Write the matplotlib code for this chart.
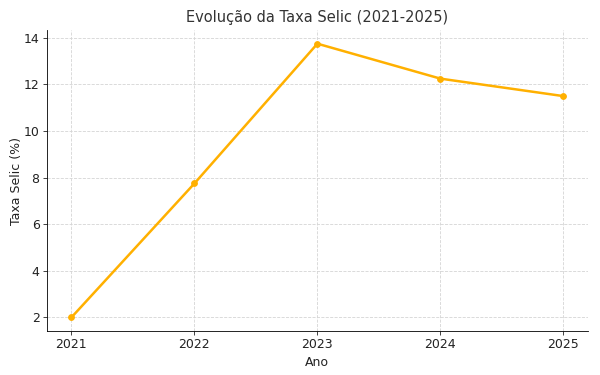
import matplotlib.pyplot as plt

anos = [2021, 2022, 2023, 2024, 2025]
selic = [2.0, 7.75, 13.75, 12.25, 11.5]

fig, ax = plt.subplots(figsize=(8, 5), dpi=75)
ax.plot(anos, selic, color='#FFB000', linewidth=2.4, marker='o', markersize=5.5)

ax.set_title('Evolução da Taxa Selic (2021-2025)', fontsize=14, color='#333333', pad=8)
ax.set_xlabel('Ano', fontsize=12, color='#222222')
ax.set_ylabel('Taxa Selic (%)', fontsize=12, color='#222222', labelpad=1)
ax.set_xticks(anos)
ax.tick_params(labelsize=12, colors='#222222')
ax.grid(True, linestyle='--', color='#d5d5d5', linewidth=0.8)
ax.spines['top'].set_visible(False)
ax.spines['right'].set_visible(False)

fig.subplots_adjust(left=0.078, right=0.98, top=0.92, bottom=0.117)
fig.savefig('out.png')
